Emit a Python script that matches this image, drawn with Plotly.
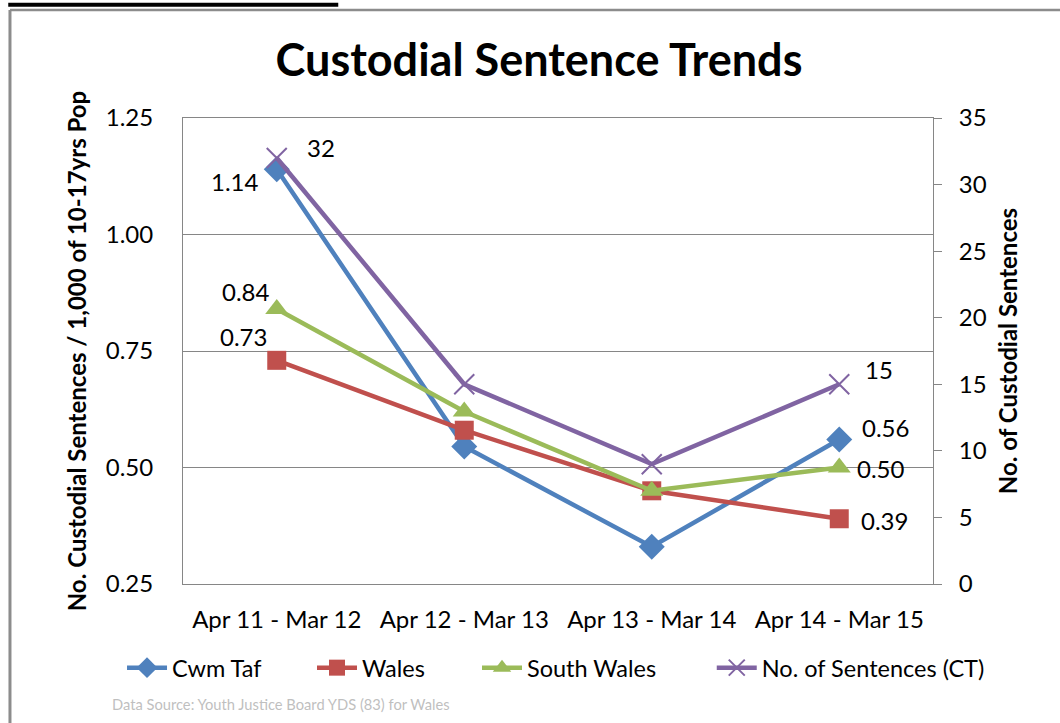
import plotly.graph_objects as go

categories = ["Apr 11 - Mar 12", "Apr 12 - Mar 13", "Apr 13 - Mar 14", "Apr 14 - Mar 15"]
cwm_taf = [1.14, 0.545, 0.33, 0.56]
wales = [0.73, 0.58, 0.45, 0.39]
south_wales = [0.84, 0.62, 0.45, 0.50]
sentences_ct = [32, 15, 9, 15]

left_ticks = [0.25, 0.50, 0.75, 1.00, 1.25]
right_ticks = [0, 5, 10, 15, 20, 25, 30, 35]

FONT = "Lato, 'Open Sans', sans-serif"
BLUE, RED, GREEN, PURPLE = "#4F81BD", "#C0504D", "#9BBB59", "#8064A2"

fig = go.Figure()
fig.add_trace(go.Scatter(x=categories, y=cwm_taf, name="Cwm Taf", mode="lines+markers",
                         line=dict(color=BLUE, width=4.5), legend="legend", showlegend=True,
                         marker=dict(symbol="diamond", size=20, color=BLUE)))
fig.add_trace(go.Scatter(x=categories, y=wales, name="Wales", mode="lines+markers",
                         line=dict(color=RED, width=4.5), legend="legend2", showlegend=True,
                         marker=dict(symbol="square", size=19, color=RED)))
fig.add_trace(go.Scatter(x=categories, y=south_wales, name="South Wales", mode="lines+markers",
                         line=dict(color=GREEN, width=4.5), legend="legend3", showlegend=True,
                         marker=dict(symbol="triangle-up", size=20, color=GREEN)))
fig.add_trace(go.Scatter(x=categories, y=sentences_ct, name="No. of Sentences (CT)", mode="lines+markers",
                         yaxis="y2", legend="legend4", showlegend=True,
                         line=dict(color=PURPLE, width=4.5),
                         marker=dict(symbol="x-thin", size=20, line=dict(color=PURPLE, width=2), color=PURPLE)))

lab_font = dict(family=FONT, size=24, color="#000000")
annots = []


def lab(x, y, text, xshift, yshift, yref="y", xanchor="center"):
    annots.append(dict(x=x, y=y, xref="x", yref=yref, text=text, showarrow=False,
                       xshift=xshift, yshift=yshift, font=lab_font, xanchor=xanchor))


lab(categories[0], cwm_taf[0], f"{cwm_taf[0]:.2f}", -16, -12, xanchor="right")
lab(categories[3], cwm_taf[3], f"{cwm_taf[3]:.2f}", 21, 12, xanchor="left")
lab(categories[0], wales[0], f"{wales[0]:.2f}", -8, 24, xanchor="right")
lab(categories[3], wales[3], f"{wales[3]:.2f}", 20, -2, xanchor="left")
lab(categories[0], sentences_ct[0], f"{sentences_ct[0]}", 28, 10, yref="y2", xanchor="left")
lab(categories[0], south_wales[0], f"{south_wales[0]:.2f}", -5, 18, xanchor="right")
lab(categories[3], south_wales[3], f"{south_wales[3]:.2f}", 16, -1, xanchor="left")
lab(categories[3], sentences_ct[3], f"{sentences_ct[3]}", 24, 15, yref="y2", xanchor="left")

annots.append(dict(x=-0.0973, y=-0.2575, xref="paper", yref="paper",
                   text="Data Source: Youth Justice Board YDS (83) for Wales",
                   showarrow=False, xanchor="left", yanchor="middle",
                   font=dict(family=FONT, size=14.7, color="#BFBFBF")))

leg_common = dict(orientation="h", y=-0.180, xanchor="left", yanchor="middle",
                  font=dict(family=FONT, size=23.5, color="#000000"), itemwidth=40,
                  bgcolor="rgba(0,0,0,0)", visible=True)

fig.update_layout(
    width=1060, height=723, showlegend=True,
    paper_bgcolor="white", plot_bgcolor="white",
    margin=dict(l=183, r=127, t=118, b=139),
    title=dict(text="<b>Custodial Sentence Trends</b>", x=0.5085, xanchor="center", y=0.917, yanchor="middle",
               font=dict(family=FONT, size=45, color="#000000")),
    font=dict(family=FONT, size=24, color="#000000"),
    xaxis=dict(showline=True, linecolor="#868686", linewidth=1, mirror=True, showgrid=False,
               ticks="", tickfont=dict(size=24), range=[-0.5, 3.5], ticklabelstandoff=14),
    yaxis=dict(range=[0.25, 1.25], tickvals=left_ticks, ticktext=[f"{v:.2f}" for v in left_ticks],
               showgrid=True, gridcolor="#868686", gridwidth=1, showline=True, linecolor="#868686",
               zeroline=False, ticks="", ticklabelstandoff=24,
               title=dict(text="<b>No. Custodial Sentences / 1,000 of 10-17yrs Pop</b>",
                          font=dict(size=24), standoff=12)),
    yaxis2=dict(range=[0, 35], tickvals=right_ticks, overlaying="y", side="right", showgrid=False,
                showline=True, linecolor="#868686", ticks="outside", ticklen=8, tickcolor="#868686",
                zeroline=False, ticklabelstandoff=12,
                title=dict(text="<b>No. of Custodial Sentences</b>", font=dict(size=24), standoff=14)),
    legend=dict(x=-0.0813, **leg_common),
    legend2=dict(x=0.172, **leg_common),
    legend3=dict(x=0.392, **leg_common),
    legend4=dict(x=0.705, **leg_common),
    annotations=annots,
    shapes=[
        dict(type="line", xref="paper", yref="paper", x0=-0.233, x1=0.207, y0=1.243, y1=1.243,
             line=dict(color="black", width=4)),
        dict(type="line", xref="paper", yref="paper", x0=-0.2307, x1=1.3, y0=1.2318, y1=1.2318,
             line=dict(color="#8C8C8C", width=2.5)),
        dict(type="line", xref="paper", yref="paper", x0=-0.2307, x1=-0.2307, y0=1.2318, y1=-0.3,
             line=dict(color="#8C8C8C", width=3)),
    ],
)

fig.write_html("out.html", config={"displayModeBar": False},
               post_script="document.body.style.margin='0px';")
